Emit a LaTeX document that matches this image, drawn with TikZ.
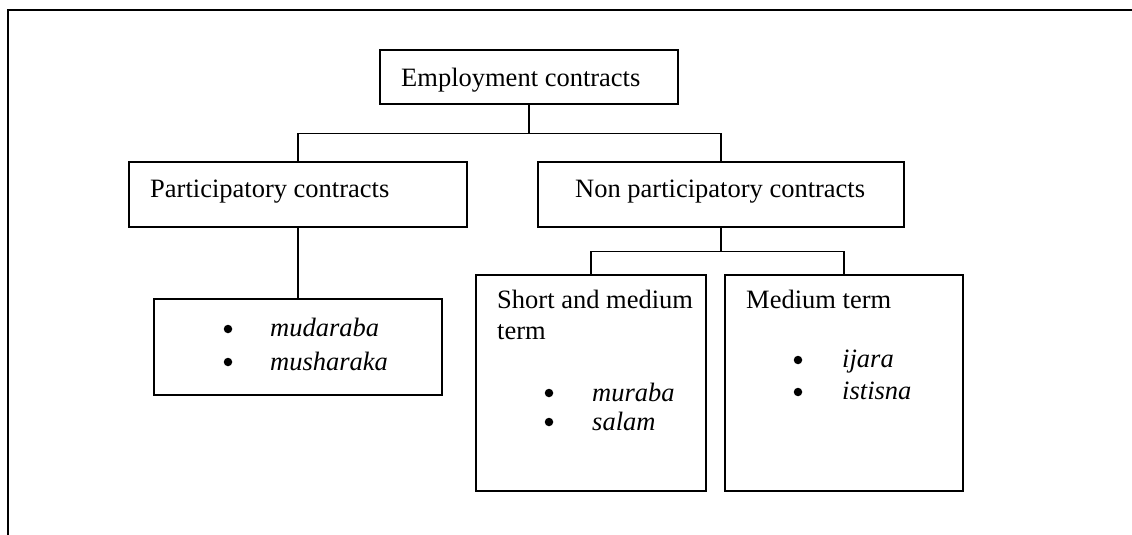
\documentclass[tikz,border=0pt]{standalone}
\usepackage{fontspec}
\setmainfont{Liberation Serif}
\begin{document}
\begin{tikzpicture}[x=1pt,y=-1pt,
  box/.style={draw,line width=1.2pt,inner sep=0pt},
  txt/.style={anchor=base west,inner sep=0pt,font=\fontsize{26.5}{32}\selectfont},
  itm/.style={anchor=base west,inner sep=0pt,font=\fontsize{26.5}{32}\selectfont\itshape},
  bul/.style={circle,fill,inner sep=0pt,minimum size=8.5pt},
  conn/.style={line width=1.2pt}]
\useasboundingbox (0,0) rectangle (1132,535);
% outer frame (partial)
\coordinate (fa) at (1132,10);
\coordinate (fb) at (8,10);
\coordinate (fc) at (8,535);
\draw[line width=1.4pt] (fa) -- (fb) -- (fc);
% boxes
\node[box,minimum width=298pt,minimum height=54pt] (top) at (529,77) {};
\node[box,minimum width=338pt,minimum height=65pt] (part) at (298,194.5) {};
\node[box,minimum width=366pt,minimum height=65pt] (nonpart) at (721,194.5) {};
\node[box,minimum width=288pt,minimum height=96pt] (mud) at (298,347) {};
\node[box,minimum width=230pt,minimum height=216pt] (short) at (591,383) {};
\node[box,minimum width=238pt,minimum height=216pt] (med) at (844,383) {};
% texts
\node[txt] (ttop) at (401,86) {Employment contracts};
\node[txt] (tpart) at (150,197) {Participatory contracts};
\node[txt] (tnon) at (575,197) {Non participatory contracts};
\node[bul] (b1) at (228,329) {};
\node[itm] (i1) at (270,336) {mudaraba};
\node[bul] (b2) at (228,362) {};
\node[itm] (i2) at (270,370) {musharaka};
\node[txt] (tshort1) at (497,308) {Short and medium};
\node[txt] (tshort2) at (497,339) {term};
\node[bul] (b3) at (549,393) {};
\node[itm] (i3) at (592,401) {muraba};
\node[bul] (b4) at (549,422) {};
\node[itm] (i4) at (592,430) {salam};
\node[txt] (tmed) at (746,308) {Medium term};
\node[bul] (b5) at (798,360) {};
\node[itm] (i5) at (842,367) {ijara};
\node[bul] (b6) at (798,392) {};
\node[itm] (i6) at (842,399) {istisna};
% connectors
\draw[conn] (top.south) -- ++(0,29) -| (part.north);
\draw[conn] (top.south) -- ++(0,29) -| (nonpart.north);
\draw[conn] (part.south) -- (mud.north);
\draw[conn] (nonpart.south) -- ++(0,24) -| (short.north);
\draw[conn] (nonpart.south) -- ++(0,24) -| (med.north);
\end{tikzpicture}
\end{document}
